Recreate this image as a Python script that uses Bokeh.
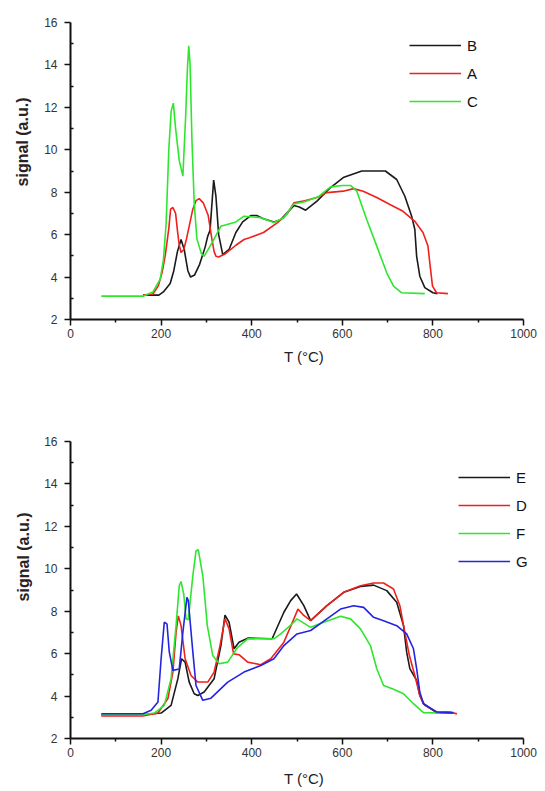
from bokeh.plotting import figure
from bokeh.models import Legend, LegendItem, Title, Range1d, FixedTicker
from bokeh.layouts import column
from bokeh.embed import file_html
from bokeh.resources import INLINE

# ---------------- data: top panel ----------------
b_x = [160, 195, 205, 220, 228, 236, 244, 251, 259, 265, 274, 285, 297, 303, 308, 312, 316, 321, 327, 336,
       350, 365, 380, 398, 411, 426, 449, 464, 479, 493, 505, 519, 544, 574, 602, 632, 643, 695, 720, 738,
       753, 760, 764, 771, 782, 800, 810]
b_y = [3.15, 3.15, 3.3, 3.7, 4.3, 5.2, 5.77, 5.3, 4.3, 4.0, 4.1, 4.6, 5.4, 5.93, 6.2, 7.4, 8.57, 7.8, 6.0, 5.06,
       5.3, 6.1, 6.6, 6.9, 6.9, 6.75, 6.6, 6.7, 7.05, 7.37, 7.3, 7.15, 7.58, 8.22, 8.69, 8.92, 9.0, 9.0, 8.6, 7.81,
       6.87, 6.24, 4.98, 4.04, 3.5, 3.26, 3.22]

a_x = [160, 182, 194, 202, 209, 217, 221, 226, 232, 236, 240, 244, 250, 256, 262, 270, 277, 284, 293, 304,
       312, 317, 321, 327, 342, 365, 383, 395, 426, 457, 479, 493, 517, 544, 566, 602, 625, 646, 676, 705,
       734, 760, 778, 789, 793, 799, 808, 833]
a_y = [3.15, 3.2, 3.6, 4.2, 5.0, 6.3, 7.2, 7.28, 7.0, 6.2, 5.5, 5.16, 5.3, 5.8, 6.4, 7.2, 7.6, 7.7, 7.5, 6.9,
       5.8, 5.2, 4.98, 4.95, 5.1, 5.5, 5.77, 5.85, 6.1, 6.57, 7.0, 7.5, 7.6, 7.75, 7.98, 8.05, 8.17, 8.05, 7.75, 7.42,
       7.1, 6.63, 6.1, 5.46, 4.68, 3.57, 3.26, 3.22]

c_x = [68, 160, 182, 198, 205, 211, 217, 222, 227, 232, 240, 248, 254, 258, 261, 264, 268, 273, 279, 289,
       295, 312, 332, 365, 383, 420, 449, 471, 493, 517, 548, 574, 600, 618, 632, 654, 676, 698, 713, 731, 782]
c_y = [3.1, 3.1, 3.3, 3.9, 4.8, 6.5, 10.0, 11.8, 12.2, 11.0, 9.5, 8.76, 11.5, 13.8, 14.9, 14.0, 10.5, 7.5, 5.8, 5.1,
       4.98, 5.6, 6.4, 6.6, 6.87, 6.8, 6.57, 6.8, 7.45, 7.55, 7.8, 8.25, 8.32, 8.32, 8.05, 6.7, 5.46, 4.2, 3.57, 3.26, 3.22]

# ---------------- data: bottom panel ----------------
e_x = [68, 160, 200, 222, 237, 245, 253, 262, 273, 281, 295, 317, 332, 341, 350, 361, 372, 391, 445, 471,
       486, 499, 515, 530, 566, 603, 640, 669, 698, 720, 735, 742, 749, 764, 771, 779, 808, 845]
e_y = [3.12, 3.12, 3.2, 3.56, 4.82, 5.76, 5.6, 4.66, 4.11, 4.03, 4.19, 4.82, 6.38, 7.82, 7.48, 6.23, 6.54, 6.73, 6.7, 7.95,
       8.5, 8.81, 8.26, 7.56, 8.26, 8.89, 9.17, 9.23, 8.97, 8.42, 7.32, 6.07, 5.29, 4.74, 4.03, 3.64, 3.22, 3.2]

d_x = [68, 160, 193, 215, 226, 233, 238, 244, 253, 266, 281, 303, 317, 330, 341, 350, 360, 372, 391, 420,
       442, 471, 493, 502, 515, 530, 566, 603, 640, 669, 691, 713, 727, 738, 748, 760, 771, 782, 808, 837, 853]
d_y = [3.06, 3.06, 3.2, 3.88, 5.13, 7.0, 7.78, 7.32, 5.76, 4.97, 4.66, 4.66, 5.13, 6.38, 7.64, 7.17, 5.99, 5.95, 5.6, 5.48,
       5.76, 6.54, 7.64, 8.1, 7.8, 7.56, 8.26, 8.89, 9.2, 9.33, 9.33, 9.05, 8.26, 7.0, 5.91, 4.97, 4.03, 3.56, 3.25, 3.25, 3.16]

f_x = [68, 160, 185, 207, 222, 233, 240, 244, 250, 255, 260, 270, 277, 282, 292, 302, 314, 328, 347, 369,
       391, 449, 464, 493, 500, 530, 559, 596, 618, 640, 662, 676, 691, 713, 735, 757, 779, 815]
f_y = [3.12, 3.12, 3.2, 3.56, 4.82, 7.32, 9.2, 9.4, 8.8, 7.64, 7.6, 9.67, 10.84, 10.9, 9.67, 7.32, 5.91, 5.52, 5.6, 6.3,
       6.7, 6.7, 6.93, 7.48, 7.64, 7.24, 7.48, 7.76, 7.64, 7.17, 6.38, 5.29, 4.5, 4.32, 4.11, 3.64, 3.22, 3.2]

g_x = [68, 160, 178, 193, 200, 207, 213, 218, 226, 240, 248, 257, 260, 270, 277, 292, 310, 347, 383, 420,
       449, 471, 500, 530, 566, 596, 625, 647, 669, 691, 720, 742, 757, 764, 771, 779, 808, 845]
g_y = [3.17, 3.17, 3.33, 3.72, 5.76, 7.48, 7.4, 6.08, 5.21, 5.28, 7.0, 8.65, 8.5, 6.08, 4.5, 3.8, 3.9, 4.66, 5.13, 5.44,
       5.76, 6.38, 6.93, 7.09, 7.64, 8.1, 8.26, 8.18, 7.71, 7.55, 7.32, 6.93, 6.23, 5.29, 4.19, 3.64, 3.25, 3.22]

top_series = [("B", b_x, b_y, "#1a1a1a"), ("A", a_x, a_y, "#f0201c"), ("C", c_x, c_y, "#2ee62e")]
bottom_series = [("E", e_x, e_y, "#1a1a1a"), ("D", d_x, d_y, "#f0201c"),
                 ("F", f_x, f_y, "#2ee62e"), ("G", g_x, g_y, "#2424e0")]

x_major = [0, 200, 400, 600, 800, 1000]
x_minor = [100, 300, 500, 700, 900]
y_major = [2, 4, 6, 8, 10, 12, 14, 16]
y_minor = [3, 5, 7, 9, 11, 13, 15]

FONT = "Liberation Sans"

# frame geometry: axis 0..1000 spans 455 px, frame extended to 469 px so the legend is not clipped
AXIS_PX = 455
FRAME_PX = 469
X_END = 1000 * FRAME_PX / AXIS_PX


def make_fig(series, height, b_top, b_bottom, legend_loc, title_offset, title_standoff, xlabel_standoff):
    p = figure(width=543, height=height, output_backend="svg", toolbar_location=None,
               x_range=Range1d(0, X_END), y_range=Range1d(2, 16),
               min_border_left=68, min_border_right=543 - 68 - FRAME_PX,
               min_border_top=b_top, min_border_bottom=b_bottom)
    p.outline_line_color = None
    p.xgrid.visible = False
    p.ygrid.visible = False
    p.background_fill_color = "white"
    p.border_fill_color = "white"

    items = []
    for name, xs, ys, col in series:
        r = p.line(xs, ys, line_color=col, line_width=1.6)
        items.append(LegendItem(label=name, renderers=[r]))

    p.xaxis.ticker = FixedTicker(ticks=x_major, minor_ticks=x_minor)
    p.yaxis.ticker = FixedTicker(ticks=y_major, minor_ticks=y_minor)
    p.xaxis.bounds = (0, 1000)
    for ax in (p.xaxis[0], p.yaxis[0]):
        ax.axis_line_width = 2
        ax.axis_line_color = "#111111"
        ax.major_tick_line_color = "#111111"
        ax.minor_tick_line_color = "#111111"
        ax.major_tick_line_width = 1.5
        ax.minor_tick_line_width = 1.5
        ax.major_tick_in = 0
        ax.major_tick_out = 6
        ax.major_label_text_font = FONT
        ax.major_label_text_font_size = "12px"
        ax.major_label_text_color = "#333333"
    p.xaxis.minor_tick_in = 0
    p.xaxis.minor_tick_out = 3
    p.yaxis.minor_tick_in = 3
    p.yaxis.minor_tick_out = 0
    p.xaxis.major_label_standoff = 3
    p.yaxis.major_label_standoff = 7

    p.xaxis.axis_label = "T (°C)"
    p.xaxis.axis_label_text_font = FONT
    p.xaxis.axis_label_text_font_size = "15px"
    p.xaxis.axis_label_text_font_style = "normal"
    p.xaxis.axis_label_text_color = "#222222"
    p.xaxis.axis_label_standoff = xlabel_standoff

    ytitle = Title(text="signal (a.u.)", align="right", offset=title_offset,
                   text_font=FONT, text_font_size="16px", text_font_style="bold",
                   text_color="#2a2222", standoff=title_standoff)
    p.add_layout(ytitle, "left")

    legend = Legend(items=items, location=legend_loc, glyph_width=52, glyph_height=20,
                    label_height=20, spacing=8, padding=0, margin=0, label_standoff=6,
                    border_line_alpha=0, background_fill_alpha=0,
                    label_text_font=FONT, label_text_font_size="15px", label_text_color="#111111")
    p.add_layout(legend)
    return p


p1 = make_fig(top_series, 399, 22, 80, (339, 208), 75, 22, 7)
p2 = make_fig(bottom_series, 390, 42, 50, (388, 167), 71, 20, 10)

layout = column(p1, p2, spacing=0)
open("out.html", "w").write(file_html(layout, INLINE))
